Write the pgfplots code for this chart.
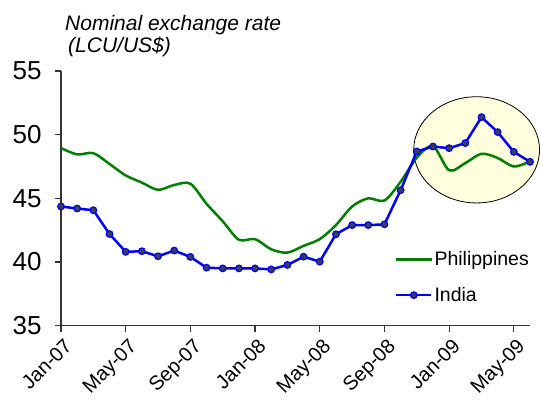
\documentclass[border=0pt]{standalone}
\usepackage{pgfplots}
\pgfplotsset{compat=1.18}
\usepackage{fontspec}
\setmainfont{Liberation Sans}
\definecolor{phil}{RGB}{0,128,0}
\definecolor{ind}{RGB}{0,0,255}
\definecolor{mk}{RGB}{55,65,80}
\definecolor{ell}{RGB}{255,255,221}
\begin{document}
\begin{tikzpicture}
\useasboundingbox (-61pt,-74.3pt) rectangle (480pt,325.7pt);
\begin{axis}[
 at={(0pt,0pt)}, anchor=south west,
 width=469pt, height=254.7pt, scale only axis,
 xmin=0, xmax=29, ymin=35, ymax=55,
 axis x line*=bottom, axis y line*=left,
 axis line style={black!80, line width=1.2pt},
 tick style={black!80, line width=1.2pt},
 tick align=outside, major tick length=6pt,
 xtick={0,4,...,28},
 xticklabels={Jan-07,May-07,Sep-07,Jan-08,May-08,Sep-08,Jan-09,May-09},
 x tick label style={rotate=45, anchor=north east, yshift=-2pt, xshift=1pt, font=\fontsize{20}{24}\selectfont},
 ytick={35,40,45,50,55},
 y tick label style={font=\fontsize{26}{30}\selectfont, xshift=-10pt},
 /pgf/number format/assume math mode=true,
 clip=false,
 legend cell align=left,
 legend style={draw=none, fill=none, at={(axis description cs:0.7118,0.1898)}, anchor=west, inner sep=0pt, row sep=16pt, font=\fontsize{19.5}{23}\selectfont},
 legend image code/.code={\draw[mark repeat=2,mark phase=2,#1] plot coordinates {(0pt,0pt) (17.5pt,0pt) (35pt,0pt)};},
]
\draw[black, line width=0.8pt, fill=ell] (axis cs:25.7,48.81) ellipse [x radius=3.89, y radius=4.17];
\addplot[phil, line width=2.5pt, smooth, tension=0.5] coordinates {
(0,48.95) (1,48.45) (2,48.55) (3,47.7) (4,46.8) (5,46.24) (6,45.67) (7,46.05) (8,46.15)
(9,44.57) (10,43.2) (11,41.75) (12,41.8) (13,41.0) (14,40.74) (15,41.27) (16,41.8)
(17,42.9) (18,44.36) (19,45.0) (20,44.83) (21,46.3) (22,48.2) (23,49.1) (24,47.2)
(25,47.77) (26,48.5) (27,48.17) (28,47.5) (29,47.9)};
\addlegendentry{Philippines}
\addplot[ind, line width=2.5pt, mark=*, mark size=3.3pt, mark options={fill=mk, draw=ind, line width=1.2pt}] coordinates {
(0,44.36) (1,44.2) (2,44.07) (3,42.2) (4,40.8) (5,40.85) (6,40.45) (7,40.9) (8,40.4)
(9,39.56) (10,39.5) (11,39.5) (12,39.5) (13,39.42) (14,39.77) (15,40.42) (16,40.03)
(17,42.18) (18,42.9) (19,42.9) (20,42.96) (21,45.64) (22,48.68) (23,49.07) (24,48.94)
(25,49.34) (26,51.38) (27,50.2) (28,48.65) (29,47.87)};
\addlegendentry{India}
\end{axis}
\node[anchor=base west, inner sep=0pt, font=\itshape\fontsize{21}{25}\selectfont] at (4pt,295pt) {Nominal exchange rate};
\node[anchor=base west, inner sep=0pt, font=\itshape\fontsize{21}{25}\selectfont] at (7pt,272.7pt) {(LCU/US\$)};
\end{tikzpicture}
\end{document}
